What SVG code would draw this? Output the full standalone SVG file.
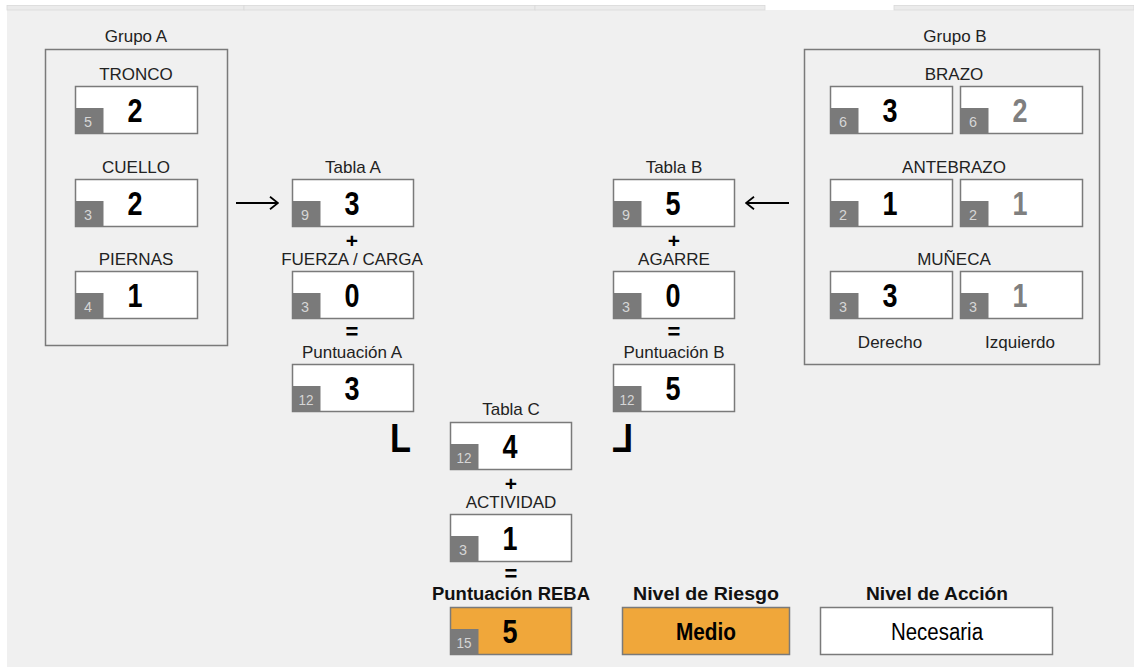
<svg xmlns="http://www.w3.org/2000/svg" width="1134" height="667" viewBox="0 0 1134 667">
<style>
.lbl{font-family:"Liberation Sans",Arial,sans-serif;font-size:17px;fill:#222;text-anchor:middle}
.blbl{font-family:"Liberation Sans",Arial,sans-serif;font-size:18px;font-weight:bold;fill:#111;text-anchor:middle}
.val{font-family:"Liberation Sans",Arial,sans-serif;font-size:33px;font-weight:bold;fill:#000;text-anchor:middle}
.valg{fill:#7f7f7f}
.box{fill:#fff;stroke:#7a7a7a;stroke-width:1.5}
.obox{fill:#f0a73a;stroke:#7a7a7a;stroke-width:1.5}
.tag{fill:#7a7a7a}
.tagt{font-family:"Liberation Sans",Arial,sans-serif;font-size:15px;fill:#d6d6d6;text-anchor:middle}
.grp{fill:none;stroke:#7a7a7a;stroke-width:1.5}
.op{font-family:"Liberation Sans",Arial,sans-serif;font-size:22px;font-weight:bold;fill:#000;text-anchor:middle}
.plus{font-size:21px}
.corner{font-family:"Liberation Sans",Arial,sans-serif;font-size:40px;font-weight:bold;fill:#000}
.big{font-family:"Liberation Sans",Arial,sans-serif;font-size:23px;fill:#000;text-anchor:middle}
.conn{stroke:#000;stroke-width:2;fill:none}
</style>
<defs>
<marker id="ah" viewBox="0 0 10 14" refX="9" refY="7" markerWidth="10" markerHeight="14" markerUnits="userSpaceOnUse" orient="auto">
<path d="M1,0.8 L9,7 L1,13.2" fill="none" stroke="#000" stroke-width="1.8"/>
</marker>
</defs>
<rect x="0" y="0" width="1134" height="667" fill="#ffffff"/>
<rect x="7" y="10" width="1127" height="657" fill="#f0f0f0"/>
<g id="tabs">
<rect x="7" y="5.5" width="237" height="4.5" fill="#ebebeb" stroke="#d9d9d9" stroke-width="0.8"/>
<rect x="244" y="5.5" width="291" height="4.5" fill="#ebebeb" stroke="#d9d9d9" stroke-width="0.8"/>
<rect x="535" y="5.5" width="230" height="4.5" fill="#ebebeb" stroke="#d9d9d9" stroke-width="0.8"/>
<rect x="894" y="5.5" width="240" height="4.5" fill="#ebebeb" stroke="#d9d9d9" stroke-width="0.8"/>
</g>

<g id="grupoA">
<text class="lbl" x="136" y="42">Grupo A</text>
<rect class="grp" x="45.5" y="49.5" width="182" height="296"/>
</g>
<g id="tronco">
<text class="lbl" x="136" y="80">TRONCO</text>
<rect class="box" x="75.5" y="86.5" width="122" height="47"/>
<rect class="tag" x="75.5" y="108" width="28" height="25.5"/>
<text class="tagt" x="88" y="127" textLength="8" lengthAdjust="spacingAndGlyphs">5</text>
<text class="val" x="135" y="122" textLength="15" lengthAdjust="spacingAndGlyphs">2</text>
</g>
<g id="cuello">
<text class="lbl" x="136" y="173">CUELLO</text>
<rect class="box" x="75.5" y="179.5" width="122" height="47"/>
<rect class="tag" x="75.5" y="201" width="28" height="25.5"/>
<text class="tagt" x="88" y="220" textLength="8" lengthAdjust="spacingAndGlyphs">3</text>
<text class="val" x="135" y="215" textLength="15" lengthAdjust="spacingAndGlyphs">2</text>
</g>
<g id="piernas">
<text class="lbl" x="136" y="265">PIERNAS</text>
<rect class="box" x="75.5" y="271.5" width="122" height="47"/>
<rect class="tag" x="75.5" y="293" width="28" height="25.5"/>
<text class="tagt" x="88" y="312" textLength="8" lengthAdjust="spacingAndGlyphs">4</text>
<text class="val" x="135" y="307" textLength="15" lengthAdjust="spacingAndGlyphs">1</text>
</g>

<g id="tablaA">
<text class="lbl" x="353" y="173">Tabla A</text>
<rect class="box" x="292.5" y="179.5" width="121" height="47"/>
<rect class="tag" x="292.5" y="201" width="28" height="25.5"/>
<text class="tagt" x="305" y="220" textLength="8" lengthAdjust="spacingAndGlyphs">9</text>
<text class="val" x="352" y="215" textLength="15" lengthAdjust="spacingAndGlyphs">3</text>
<text class="op plus" x="352" y="248">+</text>
</g>
<g id="fuerza">
<text class="lbl" x="352" y="265">FUERZA / CARGA</text>
<rect class="box" x="292.5" y="271.5" width="121" height="47"/>
<rect class="tag" x="292.5" y="293" width="28" height="25.5"/>
<text class="tagt" x="305" y="312" textLength="8" lengthAdjust="spacingAndGlyphs">3</text>
<text class="val" x="352" y="307" textLength="15" lengthAdjust="spacingAndGlyphs">0</text>
<text class="op" x="352" y="339">=</text>
</g>
<g id="puntA">
<text class="lbl" x="352" y="358">Puntuación A</text>
<rect class="box" x="292.5" y="364.5" width="121" height="47"/>
<rect class="tag" x="292.5" y="386" width="28" height="25.5"/>
<text class="tagt" x="306" y="405" textLength="15" lengthAdjust="spacingAndGlyphs">12</text>
<text class="val" x="352" y="400" textLength="15" lengthAdjust="spacingAndGlyphs">3</text>
</g>

<g id="tablaB">
<text class="lbl" x="674" y="173">Tabla B</text>
<rect class="box" x="613.5" y="179.5" width="121" height="47"/>
<rect class="tag" x="613.5" y="201" width="28" height="25.5"/>
<text class="tagt" x="626" y="220" textLength="8" lengthAdjust="spacingAndGlyphs">9</text>
<text class="val" x="673" y="215" textLength="15" lengthAdjust="spacingAndGlyphs">5</text>
<text class="op plus" x="674" y="248">+</text>
</g>
<g id="agarre">
<text class="lbl" x="674" y="265">AGARRE</text>
<rect class="box" x="613.5" y="271.5" width="121" height="47"/>
<rect class="tag" x="613.5" y="293" width="28" height="25.5"/>
<text class="tagt" x="626" y="312" textLength="8" lengthAdjust="spacingAndGlyphs">3</text>
<text class="val" x="673" y="307" textLength="15" lengthAdjust="spacingAndGlyphs">0</text>
<text class="op" x="674" y="339">=</text>
</g>
<g id="puntB">
<text class="lbl" x="674" y="358">Puntuación B</text>
<rect class="box" x="613.5" y="364.5" width="121" height="47"/>
<rect class="tag" x="613.5" y="386" width="28" height="25.5"/>
<text class="tagt" x="627" y="405" textLength="15" lengthAdjust="spacingAndGlyphs">12</text>
<text class="val" x="673" y="400" textLength="15" lengthAdjust="spacingAndGlyphs">5</text>
</g>

<g id="grupoB">
<text class="lbl" x="955" y="42">Grupo B</text>
<rect class="grp" x="804.5" y="49.5" width="295" height="315"/>
<text class="lbl" x="890" y="348">Derecho</text>
<text class="lbl" x="1020" y="348">Izquierdo</text>
</g>
<g id="brazo">
<text class="lbl" x="954" y="80">BRAZO</text>
<rect class="box" x="830.5" y="86.5" width="122" height="47"/>
<rect class="tag" x="830.5" y="108" width="28" height="25.5"/>
<text class="tagt" x="843" y="127" textLength="8" lengthAdjust="spacingAndGlyphs">6</text>
<text class="val" x="890" y="122" textLength="15" lengthAdjust="spacingAndGlyphs">3</text>
<rect class="box" x="960.5" y="86.5" width="122" height="47"/>
<rect class="tag" x="960.5" y="108" width="28" height="25.5"/>
<text class="tagt" x="973" y="127" textLength="8" lengthAdjust="spacingAndGlyphs">6</text>
<text class="val valg" x="1020" y="122" textLength="15" lengthAdjust="spacingAndGlyphs">2</text>
</g>
<g id="antebrazo">
<text class="lbl" x="954" y="173">ANTEBRAZO</text>
<rect class="box" x="830.5" y="179.5" width="122" height="47"/>
<rect class="tag" x="830.5" y="201" width="28" height="25.5"/>
<text class="tagt" x="843" y="220" textLength="8" lengthAdjust="spacingAndGlyphs">2</text>
<text class="val" x="890" y="215" textLength="15" lengthAdjust="spacingAndGlyphs">1</text>
<rect class="box" x="960.5" y="179.5" width="122" height="47"/>
<rect class="tag" x="960.5" y="201" width="28" height="25.5"/>
<text class="tagt" x="973" y="220" textLength="8" lengthAdjust="spacingAndGlyphs">2</text>
<text class="val valg" x="1020" y="215" textLength="15" lengthAdjust="spacingAndGlyphs">1</text>
</g>
<g id="muneca">
<text class="lbl" x="954" y="265">MUÑECA</text>
<rect class="box" x="830.5" y="271.5" width="122" height="47"/>
<rect class="tag" x="830.5" y="293" width="28" height="25.5"/>
<text class="tagt" x="843" y="312" textLength="8" lengthAdjust="spacingAndGlyphs">3</text>
<text class="val" x="890" y="307" textLength="15" lengthAdjust="spacingAndGlyphs">3</text>
<rect class="box" x="960.5" y="271.5" width="122" height="47"/>
<rect class="tag" x="960.5" y="293" width="28" height="25.5"/>
<text class="tagt" x="973" y="312" textLength="8" lengthAdjust="spacingAndGlyphs">3</text>
<text class="val valg" x="1020" y="307" textLength="15" lengthAdjust="spacingAndGlyphs">1</text>
</g>

<g id="tablaC">
<text class="lbl" x="511" y="415">Tabla C</text>
<rect class="box" x="450.5" y="422.5" width="121" height="47"/>
<rect class="tag" x="450.5" y="444" width="28" height="25.5"/>
<text class="tagt" x="464" y="463" textLength="15" lengthAdjust="spacingAndGlyphs">12</text>
<text class="val" x="510" y="458" textLength="15" lengthAdjust="spacingAndGlyphs">4</text>
<text class="op plus" x="511" y="491">+</text>
</g>
<g id="actividad">
<text class="lbl" x="511" y="508">ACTIVIDAD</text>
<rect class="box" x="450.5" y="514.5" width="121" height="47"/>
<rect class="tag" x="450.5" y="536" width="28" height="25.5"/>
<text class="tagt" x="463" y="555" textLength="8" lengthAdjust="spacingAndGlyphs">3</text>
<text class="val" x="510" y="550" textLength="15" lengthAdjust="spacingAndGlyphs">1</text>
<text class="op" x="511" y="581">=</text>
</g>
<g id="puntREBA">
<text class="blbl" x="511" y="600" textLength="158" lengthAdjust="spacingAndGlyphs">Puntuación REBA</text>
<rect class="obox" x="450.5" y="607.5" width="121" height="47"/>
<rect class="tag" x="450.5" y="629" width="28" height="25.5"/>
<text class="tagt" x="464" y="648" textLength="15" lengthAdjust="spacingAndGlyphs">15</text>
<text class="val" x="510" y="643" textLength="15" lengthAdjust="spacingAndGlyphs">5</text>
</g>
<g id="nivelRiesgo">
<text class="blbl" x="706" y="600" textLength="146" lengthAdjust="spacingAndGlyphs">Nivel de Riesgo</text>
<rect class="obox" x="622.5" y="607.5" width="167" height="47"/>
<text class="big" x="706" y="640" font-weight="bold" textLength="60" lengthAdjust="spacingAndGlyphs">Medio</text>
</g>
<g id="nivelAccion">
<text class="blbl" x="937" y="600" textLength="142" lengthAdjust="spacingAndGlyphs">Nivel de Acción</text>
<rect class="box" x="820.5" y="607.5" width="232" height="47"/>
<text class="big" x="937" y="640" textLength="92" lengthAdjust="spacingAndGlyphs">Necesaria</text>
</g>

<g id="connectors">
<path class="conn" d="M236,203 H278" marker-end="url(#ah)"/>
<path class="conn" d="M789,203 H746" marker-end="url(#ah)"/>
<text class="corner" x="390" y="452" textLength="21" lengthAdjust="spacingAndGlyphs">L</text>
<text class="corner" transform="translate(633,0) scale(-1,1)" x="0" y="452" textLength="21" lengthAdjust="spacingAndGlyphs">L</text>
</g>
</svg>
